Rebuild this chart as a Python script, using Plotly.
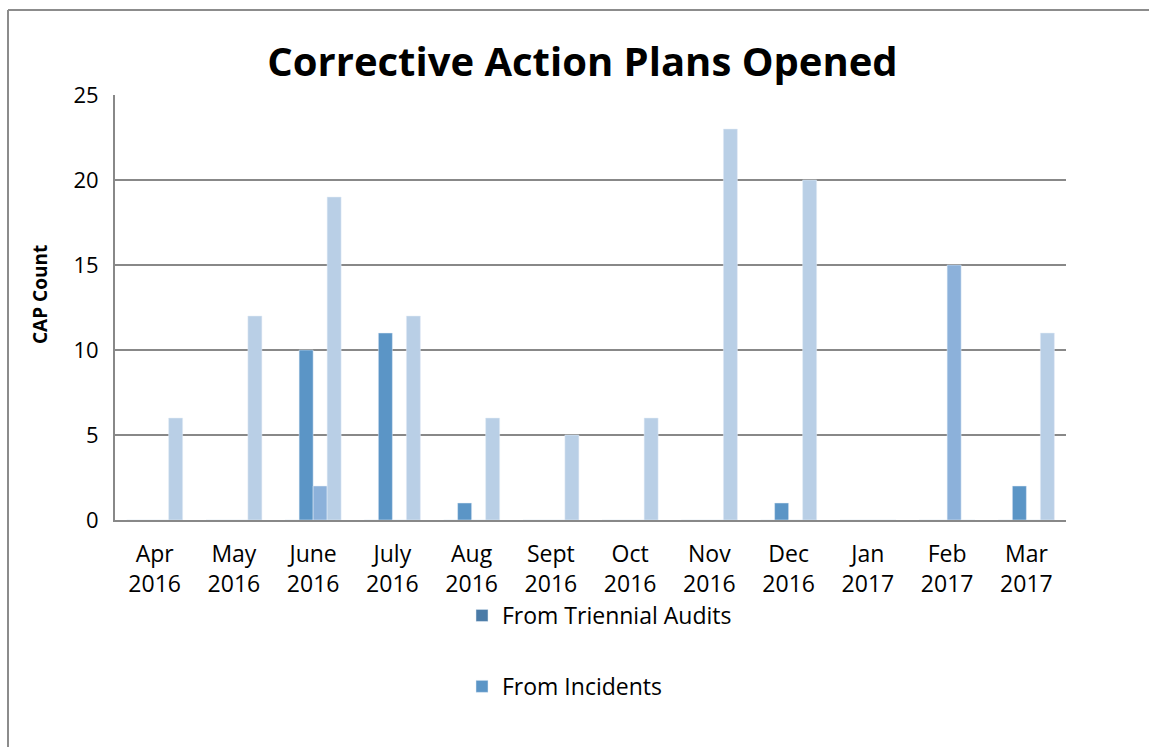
import plotly.graph_objects as go

categories = ["Apr<br>2016", "May<br>2016", "June<br>2016", "July<br>2016", "Aug<br>2016",
              "Sept<br>2016", "Oct<br>2016", "Nov<br>2016", "Dec<br>2016", "Jan<br>2017",
              "Feb<br>2017", "Mar<br>2017"]
triennial_audits = [0, 0, 0, 0, 0, 0, 0, 0, 0, 0, 0, 0]
incidents = [0, 0, 10, 11, 1, 0, 0, 0, 1, 0, 0, 2]
series_3 = [0, 0, 2, 0, 0, 0, 0, 0, 0, 0, 15, 0]
series_4 = [6, 12, 19, 12, 6, 5, 6, 23, 20, 0, 0, 11]

FONT = "Open Sans"

fig = go.Figure()
fig.add_trace(go.Bar(x=categories, y=triennial_audits, name="From Triennial Audits",
                     marker=dict(color="#4A7BA7"), legendgroup="a"))
fig.add_trace(go.Bar(x=categories, y=incidents, name="From Incidents",
                     marker=dict(color="#5B95C6"), legendgroup="b"))
fig.add_trace(go.Bar(x=categories, y=series_3, name="Series 3", showlegend=False,
                     marker=dict(color="#8CB1DA")))
fig.add_trace(go.Bar(x=categories, y=series_4, name="Series 4", showlegend=False,
                     marker=dict(color="#B9CFE6")))

W, H = 1149, 747
L, R, T, B = 115, 83, 95, 227
pw = W - L - R
ph = H - T - B

def px(x):
    return (x - L) / pw

def py(y):
    return (H - B - y) / ph

fig.update_layout(
    width=W, height=H,
    margin=dict(l=L, r=R, t=T, b=B, autoexpand=False),
    paper_bgcolor="white", plot_bgcolor="white",
    barmode="group", bargap=0.293, bargroupgap=0,
    font=dict(family=FONT, color="black"),
    title=dict(text="<b>Corrective Action Plans Opened</b>", x=(270 + 895) / 2 / W, xanchor="center",
               y=1 - 62 / H, yanchor="middle", font=dict(size=40, family=FONT, color="black")),
    xaxis=dict(showgrid=False, showline=True, linecolor="#888888", linewidth=2,
               tickfont=dict(size=23, family=FONT), ticks="", tickangle=0,
               ticklabelstandoff=12),
    yaxis=dict(range=[0, 25], dtick=5, showgrid=True, gridcolor="#888888", gridwidth=2,
               showline=True, linecolor="#888888", linewidth=2, zeroline=False,
               tickfont=dict(size=22, family=FONT), ticks="", ticklen=0,
               ticklabelstandoff=10),
    annotations=[
        dict(text="<b>CAP Count</b>", xref="paper", yref="paper", x=px(40), y=py(295),
             xanchor="center", yanchor="middle", textangle=-90, showarrow=False,
             font=dict(size=19, family=FONT, color="black")),
    ],
    legend=dict(orientation="v", x=px(462), y=py(594), xanchor="left", yanchor="top",
                font=dict(size=23, family=FONT), tracegroupgap=38, bgcolor="rgba(0,0,0,0)"),
    shapes=[
        dict(type="line", xref="paper", yref="paper", x0=px(8), x1=px(1149), y0=py(10), y1=py(10),
             line=dict(color="#8c8c8c", width=2)),
        dict(type="line", xref="paper", yref="paper", x0=px(8), x1=px(8), y0=py(10), y1=py(747),
             line=dict(color="#8c8c8c", width=2)),
    ],
)

fig.write_html("out.html")
